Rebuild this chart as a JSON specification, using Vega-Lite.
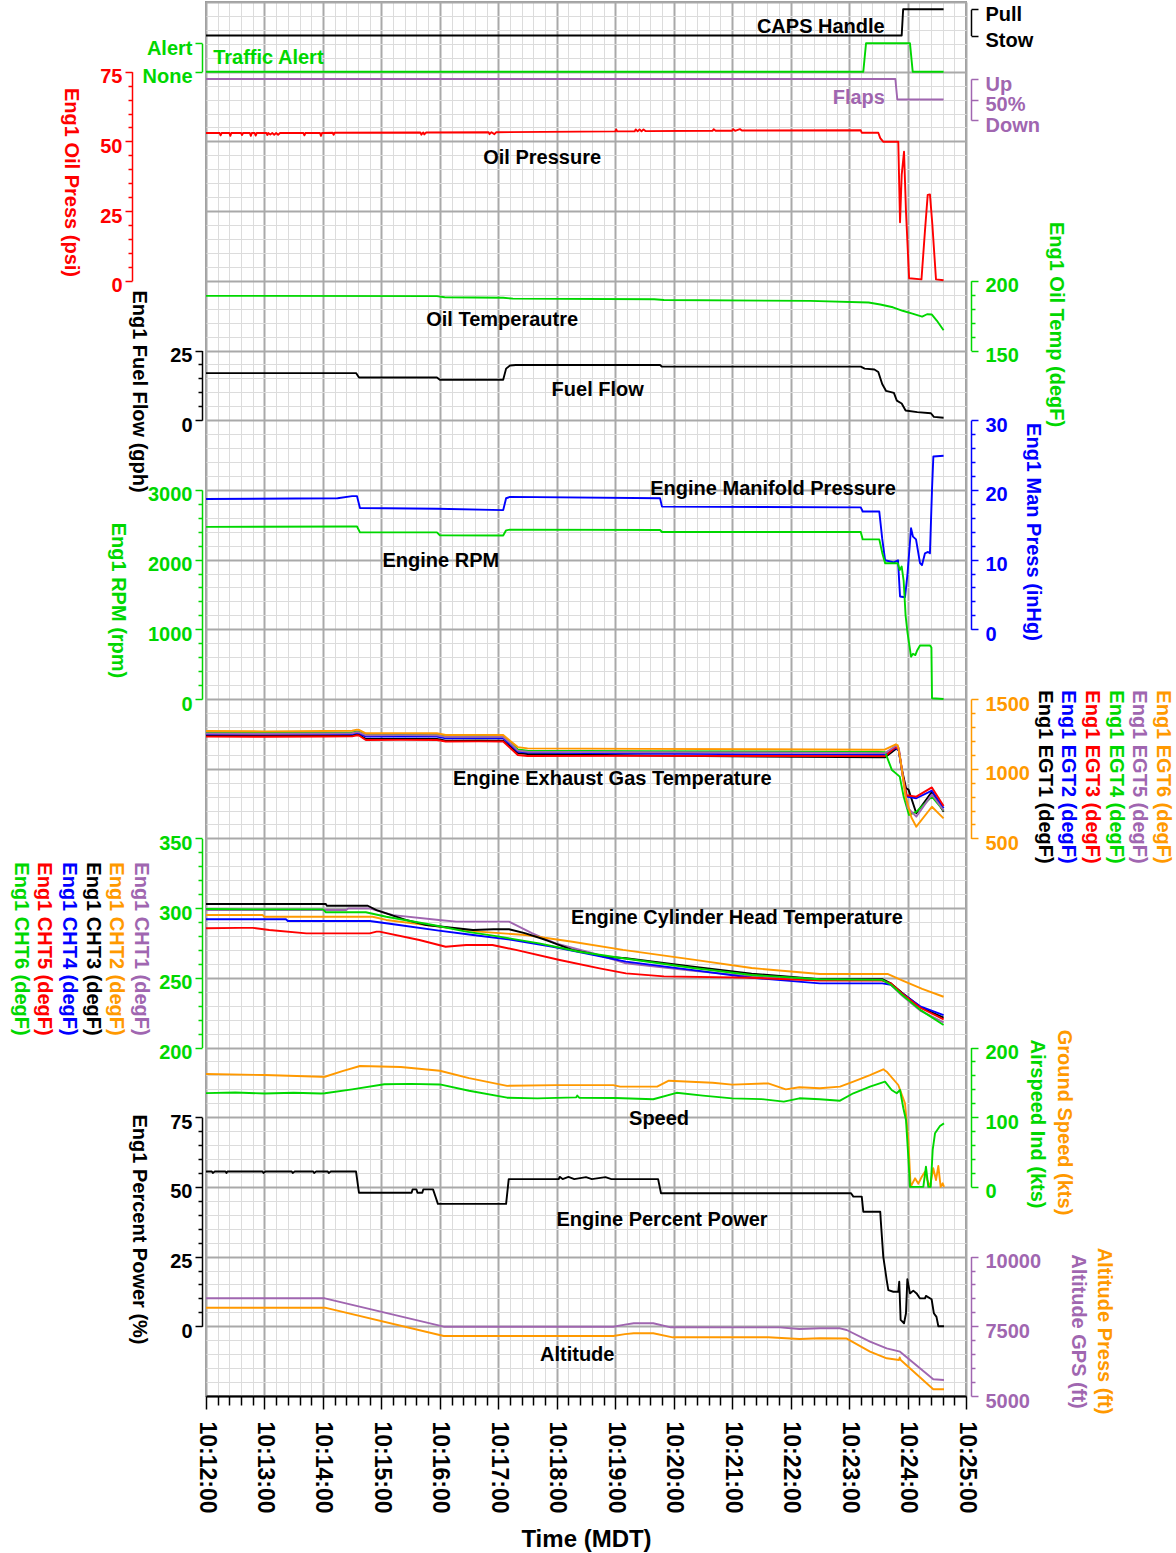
{
"$schema": "https://vega.github.io/schema/vega-lite/v6.json",
"width": 760,
"height": 1394,
"autosize": {"type": "none"},
"padding": {"left": 206, "top": 2, "right": 210, "bottom": 157},
"background": "white",
"config": {
  "font": "Liberation Sans",
  "numberFormat": "d",
  "view": {"stroke": "#9a9a9a", "strokeWidth": 2},
  "axisY": {"grid": false, "format": "d", "domainWidth": 1.5, "tickWidth": 1.5, "labelFontSize": 20, "labelFontWeight": "bold", "labelOffset": 5, "labelPadding": 3, "labelOverlap": false, "labelBound": false, "labelFlush": false, "titleFontSize": 20, "titleFontWeight": "bold", "titleAngle": 90, "titleAlign": "center", "titleBaseline": "middle"},
  "axisRight": {"labelPadding": 7},
  "line": {"strokeWidth": 1.9, "strokeJoin": "round"}
},
"datasets": {
  "caps": [{"t":0,"v":0},{"t":714,"v":0},{"t":715.5,"v":1},{"t":757,"v":1}],
  "traffic": [{"t":0,"v":0},{"t":674.6,"v":0},{"t":677.4,"v":1},{"t":722.5,"v":1},{"t":725.3,"v":0},{"t":757,"v":0}],
  "flaps": [{"t":0,"v":0},{"t":707.5,"v":0},{"t":709.5,"v":50},{"t":757,"v":50}],
  "oilp": [{"t":0,"v":53},{"t":14,"v":53},{"t":15,"v":52.2},{"t":16,"v":53},{"t":24,"v":53},{"t":25,"v":52},{"t":26,"v":53},{"t":36,"v":53},{"t":37,"v":52.3},{"t":38,"v":53},{"t":45,"v":53},{"t":46,"v":52},{"t":47,"v":53},{"t":50,"v":53},{"t":51,"v":52.1},{"t":52,"v":53},{"t":62,"v":53},{"t":63,"v":52.3},{"t":64,"v":53},{"t":66,"v":52.5},{"t":68,"v":53},{"t":70,"v":52.4},{"t":72,"v":53},{"t":74,"v":52.4},{"t":76,"v":53},{"t":100,"v":53},{"t":101,"v":52.2},{"t":102,"v":53},{"t":117,"v":53},{"t":118,"v":52},{"t":119,"v":53},{"t":130,"v":53.1},{"t":131,"v":52.4},{"t":132,"v":53.1},{"t":220,"v":53.2},{"t":221,"v":52.4},{"t":223,"v":53.2},{"t":224,"v":52.5},{"t":226,"v":53.2},{"t":290,"v":53.3},{"t":291,"v":52.6},{"t":293,"v":53.3},{"t":296,"v":52.6},{"t":298,"v":53.3},{"t":420,"v":53.6},{"t":421,"v":54.3},{"t":422,"v":53.6},{"t":440,"v":53.6},{"t":441,"v":54.3},{"t":443,"v":53.6},{"t":445,"v":54.3},{"t":447,"v":53.6},{"t":449,"v":54.3},{"t":451,"v":53.7},{"t":520,"v":53.8},{"t":521,"v":54.4},{"t":523,"v":53.8},{"t":540,"v":53.8},{"t":541,"v":54.4},{"t":543,"v":53.8},{"t":548,"v":54.4},{"t":550,"v":53.9},{"t":672,"v":54},{"t":673,"v":53.1},{"t":690,"v":53.1},{"t":692,"v":51.2},{"t":695,"v":49.9},{"t":710.5,"v":49.9},{"t":712.3,"v":21},{"t":714,"v":38},{"t":716.4,"v":46.3},{"t":718.4,"v":25},{"t":721.6,"v":0.9},{"t":734.3,"v":0.5},{"t":737.9,"v":18},{"t":740.7,"v":30.8},{"t":743,"v":31},{"t":745.5,"v":20},{"t":749.2,"v":0.5},{"t":757,"v":0.2}],
  "oilt": [{"t":0,"v":189.2},{"t":237,"v":189},{"t":245,"v":188.2},{"t":305,"v":187.8},{"t":315,"v":187.2},{"t":460,"v":186.8},{"t":470,"v":186.2},{"t":620,"v":185.6},{"t":680,"v":184.4},{"t":692,"v":183},{"t":705,"v":181},{"t":715,"v":178.5},{"t":725,"v":176.5},{"t":735,"v":174.3},{"t":740,"v":176},{"t":745,"v":175.8},{"t":750,"v":171.5},{"t":757,"v":164.5}],
  "ff": [{"t":0,"v":16.9},{"t":154,"v":16.9},{"t":157,"v":15.3},{"t":237,"v":15.3},{"t":240,"v":14.5},{"t":305,"v":14.5},{"t":308,"v":18.5},{"t":312,"v":19.6},{"t":318,"v":19.8},{"t":466,"v":19.8},{"t":468,"v":19.2},{"t":672,"v":19.2},{"t":676,"v":18.5},{"t":686,"v":18.2},{"t":690,"v":17.3},{"t":694,"v":13},{"t":698,"v":10.5},{"t":706,"v":9.8},{"t":709,"v":7},{"t":714,"v":6},{"t":718,"v":3.5},{"t":730,"v":2.9},{"t":744,"v":2.5},{"t":747,"v":1.2},{"t":757,"v":0.9}],
  "map": [{"t":0,"v":18.7},{"t":135,"v":18.8},{"t":150,"v":19.1},{"t":155,"v":19.1},{"t":158,"v":17.4},{"t":237,"v":17.3},{"t":305,"v":17.1},{"t":308,"v":18.8},{"t":312,"v":19},{"t":466,"v":18.8},{"t":468,"v":17.6},{"t":672,"v":17.5},{"t":674,"v":16.9},{"t":691,"v":16.9},{"t":694,"v":13},{"t":697,"v":9.9},{"t":706,"v":9.6},{"t":710.2,"v":9.9},{"t":712.3,"v":4.7},{"t":717.4,"v":4.6},{"t":720,"v":8},{"t":723.6,"v":14.5},{"t":725.6,"v":13.3},{"t":728.7,"v":12.9},{"t":732.8,"v":9.5},{"t":734.8,"v":9.2},{"t":737.9,"v":10.9},{"t":741,"v":11.1},{"t":743,"v":10.9},{"t":745.1,"v":20},{"t":746.5,"v":24.8},{"t":757,"v":24.9}],
  "rpm": [{"t":0,"v":2470},{"t":150,"v":2475},{"t":155,"v":2475},{"t":158,"v":2390},{"t":237,"v":2390},{"t":240,"v":2350},{"t":305,"v":2345},{"t":308,"v":2420},{"t":312,"v":2430},{"t":466,"v":2425},{"t":468,"v":2396},{"t":672,"v":2396},{"t":674,"v":2290},{"t":691,"v":2290},{"t":694,"v":2100},{"t":697,"v":1947},{"t":710,"v":1947},{"t":712,"v":1850},{"t":714,"v":1900},{"t":716,"v":1700},{"t":718,"v":1200},{"t":720,"v":950},{"t":723.6,"v":607},{"t":725.6,"v":650},{"t":728,"v":630},{"t":730,"v":700},{"t":732.8,"v":768},{"t":743,"v":770},{"t":744.5,"v":740},{"t":745.1,"v":10},{"t":757,"v":0}],
  "egt": [
    {"t":0,"s":"EGT6","v":1270},{"t":60,"s":"EGT6","v":1268},{"t":120,"s":"EGT6","v":1270},{"t":150,"s":"EGT6","v":1272},{"t":155,"s":"EGT6","v":1280},{"t":157,"s":"EGT6","v":1278},{"t":164,"s":"EGT6","v":1254},{"t":200,"s":"EGT6","v":1255},{"t":237,"s":"EGT6","v":1254},{"t":246,"s":"EGT6","v":1242},{"t":280,"s":"EGT6","v":1243},{"t":305,"s":"EGT6","v":1242},{"t":312,"s":"EGT6","v":1200},{"t":320,"s":"EGT6","v":1155},{"t":330,"s":"EGT6","v":1146},{"t":450,"s":"EGT6","v":1142},{"t":570,"s":"EGT6","v":1140},{"t":690,"s":"EGT6","v":1136},{"t":697,"s":"EGT6","v":1138},{"t":708,"s":"EGT6","v":1175},{"t":710,"s":"EGT6","v":1168},{"t":713,"s":"EGT6","v":1050},{"t":718,"s":"EGT6","v":800},{"t":724,"s":"EGT6","v":650},{"t":729,"s":"EGT6","v":584},{"t":745,"s":"EGT6","v":727},{"t":757,"s":"EGT6","v":644},
    {"t":0,"s":"EGT4","v":1258},{"t":60,"s":"EGT4","v":1257},{"t":120,"s":"EGT4","v":1259},{"t":150,"s":"EGT4","v":1260},{"t":155,"s":"EGT4","v":1268},{"t":157,"s":"EGT4","v":1266},{"t":164,"s":"EGT4","v":1245},{"t":200,"s":"EGT4","v":1246},{"t":237,"s":"EGT4","v":1245},{"t":246,"s":"EGT4","v":1232},{"t":280,"s":"EGT4","v":1233},{"t":305,"s":"EGT4","v":1232},{"t":312,"s":"EGT4","v":1190},{"t":320,"s":"EGT4","v":1138},{"t":330,"s":"EGT4","v":1129},{"t":450,"s":"EGT4","v":1126},{"t":570,"s":"EGT4","v":1124},{"t":690,"s":"EGT4","v":1120},{"t":697,"s":"EGT4","v":1118},{"t":704,"s":"EGT4","v":990},{"t":712,"s":"EGT4","v":943},{"t":716,"s":"EGT4","v":800},{"t":721.5,"s":"EGT4","v":668},{"t":729,"s":"EGT4","v":690},{"t":745,"s":"EGT4","v":800},{"t":757,"s":"EGT4","v":700},
    {"t":0,"s":"EGT5","v":1252},{"t":60,"s":"EGT5","v":1251},{"t":120,"s":"EGT5","v":1253},{"t":150,"s":"EGT5","v":1254},{"t":155,"s":"EGT5","v":1262},{"t":157,"s":"EGT5","v":1260},{"t":164,"s":"EGT5","v":1240},{"t":200,"s":"EGT5","v":1241},{"t":237,"s":"EGT5","v":1240},{"t":246,"s":"EGT5","v":1228},{"t":280,"s":"EGT5","v":1229},{"t":305,"s":"EGT5","v":1228},{"t":312,"s":"EGT5","v":1185},{"t":320,"s":"EGT5","v":1130},{"t":330,"s":"EGT5","v":1122},{"t":450,"s":"EGT5","v":1118},{"t":570,"s":"EGT5","v":1116},{"t":690,"s":"EGT5","v":1112},{"t":697,"s":"EGT5","v":1112},{"t":708,"s":"EGT5","v":1165},{"t":711,"s":"EGT5","v":1150},{"t":715,"s":"EGT5","v":950},{"t":720,"s":"EGT5","v":720},{"t":729,"s":"EGT5","v":656},{"t":745,"s":"EGT5","v":815},{"t":757,"s":"EGT5","v":700},
    {"t":0,"s":"EGT2","v":1247},{"t":60,"s":"EGT2","v":1246},{"t":120,"s":"EGT2","v":1248},{"t":150,"s":"EGT2","v":1249},{"t":155,"s":"EGT2","v":1257},{"t":157,"s":"EGT2","v":1255},{"t":164,"s":"EGT2","v":1230},{"t":200,"s":"EGT2","v":1231},{"t":237,"s":"EGT2","v":1230},{"t":246,"s":"EGT2","v":1218},{"t":280,"s":"EGT2","v":1219},{"t":305,"s":"EGT2","v":1218},{"t":312,"s":"EGT2","v":1175},{"t":320,"s":"EGT2","v":1123},{"t":330,"s":"EGT2","v":1115},{"t":450,"s":"EGT2","v":1108},{"t":570,"s":"EGT2","v":1103},{"t":690,"s":"EGT2","v":1098},{"t":697,"s":"EGT2","v":1098},{"t":708,"s":"EGT2","v":1150},{"t":711,"s":"EGT2","v":1130},{"t":715,"s":"EGT2","v":950},{"t":719,"s":"EGT2","v":800},{"t":729,"s":"EGT2","v":788},{"t":745,"s":"EGT2","v":842},{"t":757,"s":"EGT2","v":716},
    {"t":0,"s":"EGT1","v":1237},{"t":60,"s":"EGT1","v":1236},{"t":120,"s":"EGT1","v":1238},{"t":150,"s":"EGT1","v":1239},{"t":155,"s":"EGT1","v":1247},{"t":157,"s":"EGT1","v":1245},{"t":164,"s":"EGT1","v":1213},{"t":200,"s":"EGT1","v":1214},{"t":237,"s":"EGT1","v":1213},{"t":246,"s":"EGT1","v":1201},{"t":280,"s":"EGT1","v":1202},{"t":305,"s":"EGT1","v":1201},{"t":312,"s":"EGT1","v":1160},{"t":320,"s":"EGT1","v":1112},{"t":330,"s":"EGT1","v":1105},{"t":450,"s":"EGT1","v":1095},{"t":570,"s":"EGT1","v":1088},{"t":690,"s":"EGT1","v":1082},{"t":697,"s":"EGT1","v":1082},{"t":709,"s":"EGT1","v":1146},{"t":711,"s":"EGT1","v":1130},{"t":714,"s":"EGT1","v":1000},{"t":718.5,"s":"EGT1","v":860},{"t":721,"s":"EGT1","v":850},{"t":729,"s":"EGT1","v":680},{"t":745,"s":"EGT1","v":835},{"t":757,"s":"EGT1","v":691},
    {"t":0,"s":"EGT3","v":1230},{"t":60,"s":"EGT3","v":1229},{"t":120,"s":"EGT3","v":1231},{"t":150,"s":"EGT3","v":1232},{"t":155,"s":"EGT3","v":1240},{"t":157,"s":"EGT3","v":1238},{"t":164,"s":"EGT3","v":1206},{"t":200,"s":"EGT3","v":1207},{"t":237,"s":"EGT3","v":1206},{"t":246,"s":"EGT3","v":1195},{"t":280,"s":"EGT3","v":1196},{"t":305,"s":"EGT3","v":1195},{"t":312,"s":"EGT3","v":1150},{"t":320,"s":"EGT3","v":1098},{"t":330,"s":"EGT3","v":1091},{"t":450,"s":"EGT3","v":1092},{"t":570,"s":"EGT3","v":1091},{"t":690,"s":"EGT3","v":1090},{"t":697,"s":"EGT3","v":1090},{"t":708,"s":"EGT3","v":1158},{"t":711,"s":"EGT3","v":1140},{"t":715,"s":"EGT3","v":960},{"t":719,"s":"EGT3","v":810},{"t":729,"s":"EGT3","v":800},{"t":745,"s":"EGT3","v":866},{"t":757,"s":"EGT3","v":732}
  ],
  "cht": [
    {"t":0,"s":"CHT3","v":302.9},{"t":123,"s":"CHT3","v":302.9},{"t":124,"s":"CHT3","v":301.7},{"t":166,"s":"CHT3","v":301.7},{"t":175,"s":"CHT3","v":298.6},{"t":205,"s":"CHT3","v":291.5},{"t":226,"s":"CHT3","v":287.9},{"t":274,"s":"CHT3","v":284.3},{"t":295,"s":"CHT3","v":284.8},{"t":311,"s":"CHT3","v":284.8},{"t":328,"s":"CHT3","v":281.9},{"t":349,"s":"CHT3","v":277.1},{"t":376,"s":"CHT3","v":270},{"t":410,"s":"CHT3","v":265.1},{"t":431,"s":"CHT3","v":264},{"t":500,"s":"CHT3","v":258},{"t":560,"s":"CHT3","v":253},{"t":630,"s":"CHT3","v":249},{"t":694,"s":"CHT3","v":249},{"t":703,"s":"CHT3","v":246},{"t":714,"s":"CHT3","v":239.5},{"t":733,"s":"CHT3","v":229},{"t":757,"s":"CHT3","v":221.5},
    {"t":0,"s":"CHT6","v":299.4},{"t":48,"s":"CHT6","v":299.1},{"t":120,"s":"CHT6","v":299.1},{"t":123,"s":"CHT6","v":297},{"t":164,"s":"CHT6","v":297},{"t":185,"s":"CHT6","v":293.8},{"t":233,"s":"CHT6","v":287.9},{"t":267,"s":"CHT6","v":283.1},{"t":301,"s":"CHT6","v":279.5},{"t":342,"s":"CHT6","v":274.7},{"t":383,"s":"CHT6","v":268.7},{"t":428,"s":"CHT6","v":264},{"t":500,"s":"CHT6","v":257},{"t":560,"s":"CHT6","v":252},{"t":630,"s":"CHT6","v":249},{"t":694,"s":"CHT6","v":248.5},{"t":703,"s":"CHT6","v":245},{"t":714,"s":"CHT6","v":238},{"t":733,"s":"CHT6","v":227},{"t":757,"s":"CHT6","v":216.1},
    {"t":0,"s":"CHT1","v":298.6},{"t":144,"s":"CHT1","v":298.6},{"t":146,"s":"CHT1","v":299.8},{"t":168,"s":"CHT1","v":299.8},{"t":192,"s":"CHT1","v":295},{"t":239,"s":"CHT1","v":291.5},{"t":257,"s":"CHT1","v":290.3},{"t":311,"s":"CHT1","v":290.3},{"t":335,"s":"CHT1","v":281.9},{"t":359,"s":"CHT1","v":274.7},{"t":397,"s":"CHT1","v":267.6},{"t":431,"s":"CHT1","v":260.4},{"t":500,"s":"CHT1","v":255},{"t":560,"s":"CHT1","v":251},{"t":630,"s":"CHT1","v":248.5},{"t":694,"s":"CHT1","v":248.5},{"t":703,"s":"CHT1","v":245},{"t":714,"s":"CHT1","v":237.5},{"t":733,"s":"CHT1","v":226.5},{"t":757,"s":"CHT1","v":218},
    {"t":0,"s":"CHT2","v":295},{"t":58,"s":"CHT2","v":295},{"t":60,"s":"CHT2","v":293.8},{"t":171,"s":"CHT2","v":293.8},{"t":185,"s":"CHT2","v":291.5},{"t":239,"s":"CHT2","v":286.7},{"t":280,"s":"CHT2","v":283.1},{"t":328,"s":"CHT2","v":280.7},{"t":376,"s":"CHT2","v":275.9},{"t":428,"s":"CHT2","v":270},{"t":500,"s":"CHT2","v":263},{"t":560,"s":"CHT2","v":257},{"t":630,"s":"CHT2","v":252.7},{"t":700,"s":"CHT2","v":252.7},{"t":715,"s":"CHT2","v":248},{"t":735,"s":"CHT2","v":242},{"t":757,"s":"CHT2","v":236.4},
    {"t":0,"s":"CHT4","v":292},{"t":82,"s":"CHT4","v":292},{"t":84,"s":"CHT4","v":290.7},{"t":168,"s":"CHT4","v":290.7},{"t":198,"s":"CHT4","v":287.9},{"t":239,"s":"CHT4","v":283.8},{"t":274,"s":"CHT4","v":280.7},{"t":315,"s":"CHT4","v":277.1},{"t":356,"s":"CHT4","v":272.3},{"t":397,"s":"CHT4","v":266.4},{"t":431,"s":"CHT4","v":261.6},{"t":500,"s":"CHT4","v":255.5},{"t":560,"s":"CHT4","v":250},{"t":630,"s":"CHT4","v":246},{"t":694,"s":"CHT4","v":246},{"t":703,"s":"CHT4","v":245},{"t":714,"s":"CHT4","v":239},{"t":733,"s":"CHT4","v":229.5},{"t":757,"s":"CHT4","v":223.3},
    {"t":0,"s":"CHT5","v":285.5},{"t":34,"s":"CHT5","v":285.8},{"t":48,"s":"CHT5","v":285.8},{"t":65,"s":"CHT5","v":284.3},{"t":103,"s":"CHT5","v":281.9},{"t":168,"s":"CHT5","v":281.9},{"t":175,"s":"CHT5","v":283.1},{"t":178,"s":"CHT5","v":283.1},{"t":219,"s":"CHT5","v":277.1},{"t":246,"s":"CHT5","v":272.3},{"t":267,"s":"CHT5","v":273.5},{"t":294,"s":"CHT5","v":273.5},{"t":318,"s":"CHT5","v":270},{"t":363,"s":"CHT5","v":262.8},{"t":404,"s":"CHT5","v":256.8},{"t":431,"s":"CHT5","v":253.2},{"t":470,"s":"CHT5","v":251},{"t":560,"s":"CHT5","v":250},{"t":630,"s":"CHT5","v":248},{"t":694,"s":"CHT5","v":248},{"t":703,"s":"CHT5","v":246},{"t":714,"s":"CHT5","v":239},{"t":733,"s":"CHT5","v":228.5},{"t":757,"s":"CHT5","v":220.2}
  ],
  "speed": [
    {"t":0,"s":"GS","v":162},{"t":60,"s":"GS","v":160.5},{"t":118,"s":"GS","v":158},{"t":122,"s":"GS","v":158},{"t":140,"s":"GS","v":166},{"t":158,"s":"GS","v":173.5},{"t":200,"s":"GS","v":172},{"t":240,"s":"GS","v":166.7},{"t":270,"s":"GS","v":156},{"t":309,"s":"GS","v":145},{"t":360,"s":"GS","v":146},{"t":418,"s":"GS","v":146},{"t":425,"s":"GS","v":143.8},{"t":463,"s":"GS","v":143.8},{"t":475,"s":"GS","v":152.4},{"t":520,"s":"GS","v":149.5},{"t":540,"s":"GS","v":146.7},{"t":577,"s":"GS","v":148.6},{"t":595,"s":"GS","v":140},{"t":609,"s":"GS","v":142.9},{"t":630,"s":"GS","v":141.5},{"t":650.7,"s":"GS","v":143.8},{"t":664.4,"s":"GS","v":151},{"t":681.5,"s":"GS","v":160.5},{"t":695.1,"s":"GS","v":168.7},{"t":698.6,"s":"GS","v":165.3},{"t":710.5,"s":"GS","v":146.2},{"t":717.4,"s":"GS","v":119.9},{"t":720.8,"s":"GS","v":67.3},{"t":723.2,"s":"GS","v":0.3},{"t":727.7,"s":"GS","v":12.3},{"t":731.1,"s":"GS","v":4.6},{"t":734.6,"s":"GS","v":14.6},{"t":737.9,"s":"GS","v":21.8},{"t":740.3,"s":"GS","v":9.9},{"t":743,"s":"GS","v":0},{"t":746.4,"s":"GS","v":26.7},{"t":749.2,"s":"GS","v":9.9},{"t":751.6,"s":"GS","v":30},{"t":754,"s":"GS","v":0},{"t":756.1,"s":"GS","v":5.2},{"t":757.4,"s":"GS","v":0},
    {"t":0,"s":"IAS","v":134.5},{"t":30,"s":"IAS","v":135.5},{"t":60,"s":"IAS","v":134},{"t":90,"s":"IAS","v":135},{"t":118,"s":"IAS","v":134},{"t":122,"s":"IAS","v":134.3},{"t":150,"s":"IAS","v":140},{"t":183,"s":"IAS","v":147.2},{"t":210,"s":"IAS","v":147.8},{"t":240,"s":"IAS","v":147},{"t":270,"s":"IAS","v":138},{"t":309,"s":"IAS","v":128},{"t":340,"s":"IAS","v":127},{"t":380,"s":"IAS","v":128.5},{"t":381,"s":"IAS","v":131},{"t":383,"s":"IAS","v":128},{"t":420,"s":"IAS","v":127.5},{"t":459,"s":"IAS","v":125.7},{"t":483,"s":"IAS","v":135},{"t":510,"s":"IAS","v":131},{"t":540,"s":"IAS","v":127},{"t":570,"s":"IAS","v":126},{"t":593,"s":"IAS","v":122.3},{"t":609,"s":"IAS","v":127.1},{"t":630,"s":"IAS","v":125.7},{"t":650.7,"s":"IAS","v":123.7},{"t":664.4,"s":"IAS","v":134.3},{"t":681.5,"s":"IAS","v":143.8},{"t":696.9,"s":"IAS","v":151},{"t":703.7,"s":"IAS","v":139},{"t":708.9,"s":"IAS","v":134.3},{"t":712.3,"s":"IAS","v":139},{"t":715.7,"s":"IAS","v":112.8},{"t":718.4,"s":"IAS","v":96},{"t":720.8,"s":"IAS","v":43.3},{"t":722.5,"s":"IAS","v":0},{"t":736.2,"s":"IAS","v":0},{"t":738.9,"s":"IAS","v":29},{"t":741.3,"s":"IAS","v":0},{"t":743.8,"s":"IAS","v":0},{"t":745.8,"s":"IAS","v":53},{"t":748.2,"s":"IAS","v":76.9},{"t":753.3,"s":"IAS","v":87.4},{"t":757.4,"s":"IAS","v":91.2}
  ],
  "pwr": [{"t":0,"v":55.5},{"t":6,"v":55.5},{"t":7,"v":55},{"t":9,"v":55.5},{"t":20,"v":55.5},{"t":21,"v":55},{"t":22,"v":55.5},{"t":58,"v":55.5},{"t":59,"v":55},{"t":61,"v":55.5},{"t":88,"v":55.5},{"t":89,"v":55},{"t":91,"v":55.5},{"t":110,"v":55.5},{"t":111,"v":55},{"t":113,"v":55.5},{"t":125,"v":55.5},{"t":126,"v":55},{"t":128,"v":55.5},{"t":154,"v":55.5},{"t":157,"v":47.9},{"t":211,"v":47.9},{"t":212,"v":49.1},{"t":216,"v":49.1},{"t":217,"v":47.9},{"t":222,"v":47.9},{"t":223,"v":49.1},{"t":233,"v":49.1},{"t":236,"v":46},{"t":238,"v":43.9},{"t":308,"v":43.9},{"t":310.7,"v":52.8},{"t":362,"v":52.8},{"t":363,"v":53.6},{"t":366,"v":52.8},{"t":372,"v":53.6},{"t":378,"v":52.8},{"t":390,"v":53.5},{"t":396,"v":52.8},{"t":410,"v":53.5},{"t":416,"v":52.8},{"t":464,"v":52.8},{"t":467,"v":47.7},{"t":662,"v":47.7},{"t":664.4,"v":46.5},{"t":673,"v":46.5},{"t":674.6,"v":41.1},{"t":692,"v":41.1},{"t":692.5,"v":38.1},{"t":695.1,"v":25},{"t":698.6,"v":16.6},{"t":700.3,"v":13},{"t":705.4,"v":12.4},{"t":710.5,"v":12.4},{"t":711.5,"v":16},{"t":712.9,"v":2.3},{"t":716.4,"v":1.1},{"t":718.4,"v":4.7},{"t":719.8,"v":16.9},{"t":722.5,"v":11.8},{"t":725.9,"v":12.8},{"t":729.3,"v":11.8},{"t":732.8,"v":10},{"t":737.9,"v":10},{"t":738.9,"v":10.9},{"t":744.7,"v":9.7},{"t":747,"v":4.7},{"t":749.7,"v":3.4},{"t":751.6,"v":0},{"t":757.4,"v":0}],
  "alt": [
    {"t":0,"s":"GPS","v":8504},{"t":122,"s":"GPS","v":8504},{"t":244,"s":"GPS","v":7486},{"t":418,"s":"GPS","v":7486},{"t":430,"s":"GPS","v":7560},{"t":439,"s":"GPS","v":7608},{"t":459,"s":"GPS","v":7608},{"t":477,"s":"GPS","v":7464},{"t":540,"s":"GPS","v":7460},{"t":589,"s":"GPS","v":7460},{"t":609,"s":"GPS","v":7403},{"t":630,"s":"GPS","v":7428},{"t":650.7,"s":"GPS","v":7428},{"t":657.6,"s":"GPS","v":7367},{"t":681.5,"s":"GPS","v":6948},{"t":698.6,"s":"GPS","v":6711},{"t":712.3,"s":"GPS","v":6590},{"t":746.4,"s":"GPS","v":5599},{"t":757.4,"s":"GPS","v":5574},
    {"t":0,"s":"Press","v":8168},{"t":122,"s":"Press","v":8168},{"t":244,"s":"Press","v":7152},{"t":418,"s":"Press","v":7152},{"t":430,"s":"Press","v":7220},{"t":439,"s":"Press","v":7249},{"t":459,"s":"Press","v":7249},{"t":479,"s":"Press","v":7105},{"t":577,"s":"Press","v":7105},{"t":609,"s":"Press","v":7045},{"t":630,"s":"Press","v":7070},{"t":657.6,"s":"Press","v":7060},{"t":681.5,"s":"Press","v":6589},{"t":698.6,"s":"Press","v":6352},{"t":711.2,"s":"Press","v":6291},{"t":712,"s":"Press","v":6380},{"t":713,"s":"Press","v":6291},{"t":746.4,"s":"Press","v":5240},{"t":757.4,"s":"Press","v":5240}
  ],
  "labels": [
    {"t":631,"row":0.36,"label":"CAPS Handle","kind":"main"},
    {"t":64,"row":0.8,"label":"Traffic Alert","kind":"traffic"},
    {"t":670,"row":1.38,"label":"Flaps","kind":"flaps"},
    {"t":345,"row":2.24,"label":"Oil Pressure","kind":"main"},
    {"t":304,"row":4.56,"label":"Oil Temperautre","kind":"main"},
    {"t":402,"row":5.57,"label":"Fuel Flow","kind":"main"},
    {"t":582,"row":6.99,"label":"Engine Manifold Pressure","kind":"main"},
    {"t":241,"row":8.02,"label":"Engine RPM","kind":"main"},
    {"t":417,"row":11.15,"label":"Engine Exhaust Gas Temperature","kind":"main"},
    {"t":545,"row":13.14,"label":"Engine Cylinder Head Temperature","kind":"main"},
    {"t":465,"row":16.03,"label":"Speed","kind":"main"},
    {"t":468,"row":17.48,"label":"Engine Percent Power","kind":"main"},
    {"t":381,"row":19.41,"label":"Altitude","kind":"main"}
  ]
},
"encoding": {
  "x": {"field": "t", "type": "quantitative", "scale": {"domain": [0, 780], "nice": false, "zero": false},
    "axis": {"title": "Time (MDT)",
      "values": [0,12,24,36,48,60,72,84,96,108,120,132,144,156,168,180,192,204,216,228,240,252,264,276,288,300,312,324,336,348,360,372,384,396,408,420,432,444,456,468,480,492,504,516,528,540,552,564,576,588,600,612,624,636,648,660,672,684,696,708,720,732,744,756,768,780],
      "labelExpr": "datum.value % 60 === 0 ? '10:' + (12 + datum.value / 60) + ':00' : ''",
      "tickSize": {"condition": {"test": "datum.value % 60 === 0", "value": 13}, "value": 9},
      "tickColor": "black", "tickWidth": 1.5, "domainColor": "black", "domainWidth": 2,
      "grid": true,
      "gridColor": {"condition": {"test": "datum.value % 60 === 0", "value": "#a9a9a9"}, "value": "#dcdcdc"},
      "gridWidth": {"condition": {"test": "datum.value % 60 === 0", "value": 2}, "value": 1},
      "labelAngle": 90, "labelAlign": "left", "labelBaseline": "middle", "labelFontSize": 23, "labelFontWeight": "bold", "labelColor": "black", "labelPadding": 12, "labelOverlap": false, "labelFlush": false, "labelBound": false,
      "titleFontSize": 24, "titleFontWeight": "bold", "titleColor": "black", "titleY": 143, "titleBaseline": "middle"}}
},
"layer": [
  {"data": {"values": [{"t": 0, "g": 0}]}, "mark": {"type": "point", "opacity": 0},
   "encoding": {"y": {"field": "g", "type": "quantitative", "scale": {"domain": [0, 100], "range": [0, 1394], "nice": false, "zero": false},
     "axis": {"orient": "left", "values": [0,1,2,3,4,5,6,7,8,9,10,11,12,13,14,15,16,17,18,19,20,21,22,23,24,25,26,27,28,29,30,31,32,33,34,35,36,37,38,39,40,41,42,43,44,45,46,47,48,49,50,51,52,53,54,55,56,57,58,59,60,61,62,63,64,65,66,67,68,69,70,71,72,73,74,75,76,77,78,79,80,81,82,83,84,85,86,87,88,89,90,91,92,93,94,95,96,97,98,99,100],
       "grid": true, "gridColor": {"condition": {"test": "datum.value % 5 === 0", "value": "#a9a9a9"}, "value": "#dcdcdc"},
       "gridWidth": {"condition": {"test": "datum.value % 5 === 0", "value": 2}, "value": 1},
       "labels": false, "ticks": false, "domain": false, "title": null}}}},
  {"data": {"name": "caps"}, "mark": {"type": "line", "color": "black"},
   "encoding": {"y": {"field": "v", "type": "quantitative", "scale": {"domain": [0, 1], "range": [33.5, 7.3], "nice": false},
     "axis": {"orient": "right", "offset": 5, "values": [0, 1], "labelExpr": "datum.value === 1 ? 'Pull' : 'Stow'", "tickSize": 7, "domainColor": "black", "tickColor": "black", "labelColor": "black", "title": null}}}},
  {"data": {"name": "traffic"}, "mark": {"type": "line", "color": "#00d700"},
   "encoding": {"y": {"field": "v", "type": "quantitative", "scale": {"domain": [0, 1], "range": [69.7, 41.3], "nice": false},
     "axis": {"orient": "left", "offset": 4, "values": [0, 1], "labelExpr": "datum.value === 1 ? 'Alert' : 'None'", "tickSize": 7, "domainColor": "#00d700", "tickColor": "#00d700", "labelColor": "#00d700", "title": null}}}},
  {"data": {"name": "flaps"}, "mark": {"type": "line", "color": "#a066b0"},
   "encoding": {"y": {"field": "v", "type": "quantitative", "scale": {"domain": [0, 100], "range": [77, 118], "nice": false},
     "axis": {"orient": "right", "offset": 5, "values": [0, 50, 100], "labelExpr": "datum.value === 0 ? 'Up' : datum.value === 50 ? '50%' : 'Down'", "tickSize": 7, "domainColor": "#a066b0", "tickColor": "#a066b0", "labelColor": "#a066b0", "title": null}}}},
  {"data": {"name": "oilp"}, "mark": {"type": "line", "color": "#ff0000"},
   "encoding": {"y": {"field": "v", "type": "quantitative", "scale": {"domain": [0, 75], "range": [278.8, 69.7], "nice": false},
     "axis": {"orient": "left", "offset": 74, "values": [0,5,10,15,20,25,30,35,40,45,50,55,60,65,70,75], "labelExpr": "datum.value % 25 === 0 ? datum.label : ''", "tickSize": {"condition": {"test": "datum.value % 25 === 0", "value": 7}, "value": 4}, "domainColor": "#ff0000", "tickColor": "#ff0000", "labelColor": "#ff0000", "title": "Eng1 Oil Press (psi)", "titleColor": "#ff0000", "titleX": -62, "titleY": 180}}}},
  {"data": {"name": "oilt"}, "mark": {"type": "line", "color": "#00d700"},
   "encoding": {"y": {"field": "v", "type": "quantitative", "scale": {"domain": [150, 200], "range": [348.5, 278.8], "nice": false, "zero": false},
     "axis": {"orient": "right", "offset": 5, "values": [150,160,170,180,190,200], "labelExpr": "datum.value % 50 === 0 ? datum.label : ''", "tickSize": {"condition": {"test": "datum.value % 50 === 0", "value": 7}, "value": 4}, "domainColor": "#00d700", "tickColor": "#00d700", "labelColor": "#00d700", "title": "Eng1 Oil Temp (degF)", "titleColor": "#00d700", "titleX": 84, "titleY": 322}}}},
  {"data": {"name": "ff"}, "mark": {"type": "line", "color": "black"},
   "encoding": {"y": {"field": "v", "type": "quantitative", "scale": {"domain": [0, 25], "range": [418.2, 348.5], "nice": false},
     "axis": {"orient": "left", "offset": 4, "values": [0,5,10,15,20,25], "labelExpr": "datum.value % 25 === 0 ? datum.label : ''", "tickSize": {"condition": {"test": "datum.value % 25 === 0", "value": 7}, "value": 4}, "domainColor": "black", "tickColor": "black", "labelColor": "black", "title": "Eng1 Fuel Flow (gph)", "titleColor": "black", "titleX": -64, "titleY": 389}}}},
  {"data": {"name": "map"}, "mark": {"type": "line", "color": "#0000ff"},
   "encoding": {"y": {"field": "v", "type": "quantitative", "scale": {"domain": [0, 30], "range": [627.3, 418.2], "nice": false},
     "axis": {"orient": "right", "offset": 5, "values": [0,2,4,6,8,10,12,14,16,18,20,22,24,26,28,30], "labelExpr": "datum.value % 10 === 0 ? datum.label : ''", "tickSize": {"condition": {"test": "datum.value % 10 === 0", "value": 7}, "value": 4}, "domainColor": "#0000ff", "tickColor": "#0000ff", "labelColor": "#0000ff", "title": "Eng1 Man Press (inHg)", "titleColor": "#0000ff", "titleX": 61, "titleY": 529.5}}}},
  {"data": {"name": "rpm"}, "mark": {"type": "line", "color": "#00d700"},
   "encoding": {"y": {"field": "v", "type": "quantitative", "scale": {"domain": [0, 3000], "range": [697, 487.9], "nice": false},
     "axis": {"orient": "left", "offset": 4, "format": "d", "values": [0,200,400,600,800,1000,1200,1400,1600,1800,2000,2200,2400,2600,2800,3000], "labelExpr": "datum.value % 1000 === 0 ? datum.label : ''", "tickSize": {"condition": {"test": "datum.value % 1000 === 0", "value": 7}, "value": 4}, "domainColor": "#00d700", "tickColor": "#00d700", "labelColor": "#00d700", "title": "Eng1 RPM (rpm)", "titleColor": "#00d700", "titleX": -85, "titleY": 598}}}},
  {"data": {"name": "egt"}, "transform": [{"filter": "datum.s === 'EGT1'"}], "mark": {"type": "line", "color": "black"},
   "encoding": {"y": {"field": "v", "type": "quantitative", "scale": {"domain": [500, 1500], "range": [836.4, 697], "nice": false, "zero": false},
     "axis": {"orient": "right", "offset": 5, "labels": false, "ticks": false, "domain": false, "title": "Eng1 EGT1 (degF)", "titleColor": "black", "titleX": 73, "titleY": 774.5}}}},
  {"data": {"name": "egt"}, "transform": [{"filter": "datum.s === 'EGT2'"}], "mark": {"type": "line", "color": "#0000ff"},
   "encoding": {"y": {"field": "v", "type": "quantitative", "scale": {"domain": [500, 1500], "range": [836.4, 697], "nice": false, "zero": false},
     "axis": {"orient": "right", "offset": 5, "labels": false, "ticks": false, "domain": false, "title": "Eng1 EGT2 (degF)", "titleColor": "#0000ff", "titleX": 96.7, "titleY": 774.5}}}},
  {"data": {"name": "egt"}, "transform": [{"filter": "datum.s === 'EGT3'"}], "mark": {"type": "line", "color": "#ff0000"},
   "encoding": {"y": {"field": "v", "type": "quantitative", "scale": {"domain": [500, 1500], "range": [836.4, 697], "nice": false, "zero": false},
     "axis": {"orient": "right", "offset": 5, "labels": false, "ticks": false, "domain": false, "title": "Eng1 EGT3 (degF)", "titleColor": "#ff0000", "titleX": 120.4, "titleY": 774.5}}}},
  {"data": {"name": "egt"}, "transform": [{"filter": "datum.s === 'EGT4'"}], "mark": {"type": "line", "color": "#00d700"},
   "encoding": {"y": {"field": "v", "type": "quantitative", "scale": {"domain": [500, 1500], "range": [836.4, 697], "nice": false, "zero": false},
     "axis": {"orient": "right", "offset": 5, "labels": false, "ticks": false, "domain": false, "title": "Eng1 EGT4 (degF)", "titleColor": "#00d700", "titleX": 144.1, "titleY": 774.5}}}},
  {"data": {"name": "egt"}, "transform": [{"filter": "datum.s === 'EGT5'"}], "mark": {"type": "line", "color": "#a066b0"},
   "encoding": {"y": {"field": "v", "type": "quantitative", "scale": {"domain": [500, 1500], "range": [836.4, 697], "nice": false, "zero": false},
     "axis": {"orient": "right", "offset": 5, "labels": false, "ticks": false, "domain": false, "title": "Eng1 EGT5 (degF)", "titleColor": "#a066b0", "titleX": 167.8, "titleY": 774.5}}}},
  {"data": {"name": "egt"}, "transform": [{"filter": "datum.s === 'EGT6'"}], "mark": {"type": "line", "color": "#ff9900"},
   "encoding": {"y": {"field": "v", "type": "quantitative", "scale": {"domain": [500, 1500], "range": [836.4, 697], "nice": false, "zero": false},
     "axis": {"orient": "right", "offset": 5, "format": "d", "values": [500,600,700,800,900,1000,1100,1200,1300,1400,1500], "labelExpr": "datum.value % 500 === 0 ? datum.label : ''", "tickSize": {"condition": {"test": "datum.value % 500 === 0", "value": 7}, "value": 4}, "domainColor": "#ff9900", "tickColor": "#ff9900", "labelColor": "#ff9900", "title": "Eng1 EGT6 (degF)", "titleColor": "#ff9900", "titleX": 191.5, "titleY": 774.5}}}},
  {"data": {"name": "cht"}, "transform": [{"filter": "datum.s === 'CHT1'"}], "mark": {"type": "line", "color": "#a066b0"},
   "encoding": {"y": {"field": "v", "type": "quantitative", "scale": {"domain": [200, 350], "range": [1045.5, 836.4], "nice": false, "zero": false},
     "axis": {"orient": "left", "offset": 4, "labels": false, "ticks": false, "domain": false, "title": "Eng1 CHT1 (degF)", "titleColor": "#a066b0", "titleX": -62, "titleY": 946.5}}}},
  {"data": {"name": "cht"}, "transform": [{"filter": "datum.s === 'CHT2'"}], "mark": {"type": "line", "color": "#ff9900"},
   "encoding": {"y": {"field": "v", "type": "quantitative", "scale": {"domain": [200, 350], "range": [1045.5, 836.4], "nice": false, "zero": false},
     "axis": {"orient": "left", "offset": 4, "labels": false, "ticks": false, "domain": false, "title": "Eng1 CHT2 (degF)", "titleColor": "#ff9900", "titleX": -86.5, "titleY": 946.5}}}},
  {"data": {"name": "cht"}, "transform": [{"filter": "datum.s === 'CHT3'"}], "mark": {"type": "line", "color": "black"},
   "encoding": {"y": {"field": "v", "type": "quantitative", "scale": {"domain": [200, 350], "range": [1045.5, 836.4], "nice": false, "zero": false},
     "axis": {"orient": "left", "offset": 4, "labels": false, "ticks": false, "domain": false, "title": "Eng1 CHT3 (degF)", "titleColor": "black", "titleX": -110, "titleY": 946.5}}}},
  {"data": {"name": "cht"}, "transform": [{"filter": "datum.s === 'CHT4'"}], "mark": {"type": "line", "color": "#0000ff"},
   "encoding": {"y": {"field": "v", "type": "quantitative", "scale": {"domain": [200, 350], "range": [1045.5, 836.4], "nice": false, "zero": false},
     "axis": {"orient": "left", "offset": 4, "labels": false, "ticks": false, "domain": false, "title": "Eng1 CHT4 (degF)", "titleColor": "#0000ff", "titleX": -134, "titleY": 946.5}}}},
  {"data": {"name": "cht"}, "transform": [{"filter": "datum.s === 'CHT5'"}], "mark": {"type": "line", "color": "#ff0000"},
   "encoding": {"y": {"field": "v", "type": "quantitative", "scale": {"domain": [200, 350], "range": [1045.5, 836.4], "nice": false, "zero": false},
     "axis": {"orient": "left", "offset": 4, "labels": false, "ticks": false, "domain": false, "title": "Eng1 CHT5 (degF)", "titleColor": "#ff0000", "titleX": -158.5, "titleY": 946.5}}}},
  {"data": {"name": "cht"}, "transform": [{"filter": "datum.s === 'CHT6'"}], "mark": {"type": "line", "color": "#00d700"},
   "encoding": {"y": {"field": "v", "type": "quantitative", "scale": {"domain": [200, 350], "range": [1045.5, 836.4], "nice": false, "zero": false},
     "axis": {"orient": "left", "offset": 4, "values": [200,210,220,230,240,250,260,270,280,290,300,310,320,330,340,350], "labelExpr": "datum.value % 50 === 0 ? datum.label : ''", "tickSize": {"condition": {"test": "datum.value % 50 === 0", "value": 7}, "value": 4}, "domainColor": "#00d700", "tickColor": "#00d700", "labelColor": "#00d700", "title": "Eng1 CHT6 (degF)", "titleColor": "#00d700", "titleX": -182, "titleY": 946.5}}}},
  {"data": {"name": "speed"}, "transform": [{"filter": "datum.s === 'GS'"}], "mark": {"type": "line", "color": "#ff9900"},
   "encoding": {"y": {"field": "v", "type": "quantitative", "scale": {"domain": [0, 200], "range": [1184.9, 1045.5], "nice": false},
     "axis": {"orient": "right", "offset": 5, "labels": false, "ticks": false, "domain": false, "title": "Ground Speed (kts)", "titleColor": "#ff9900", "titleX": 92, "titleY": 1120}}}},
  {"data": {"name": "speed"}, "transform": [{"filter": "datum.s === 'IAS'"}], "mark": {"type": "line", "color": "#00d700"},
   "encoding": {"y": {"field": "v", "type": "quantitative", "scale": {"domain": [0, 200], "range": [1184.9, 1045.5], "nice": false},
     "axis": {"orient": "right", "offset": 5, "values": [0,20,40,60,80,100,120,140,160,180,200], "labelExpr": "datum.value % 100 === 0 ? datum.label : ''", "tickSize": {"condition": {"test": "datum.value % 100 === 0", "value": 7}, "value": 4}, "domainColor": "#00d700", "tickColor": "#00d700", "labelColor": "#00d700", "title": "Airspeed Ind (kts)", "titleColor": "#00d700", "titleX": 65, "titleY": 1121.5}}}},
  {"data": {"name": "pwr"}, "mark": {"type": "line", "color": "black"},
   "encoding": {"y": {"field": "v", "type": "quantitative", "scale": {"domain": [0, 75], "range": [1324.3, 1115.2], "nice": false},
     "axis": {"orient": "left", "offset": 4, "values": [0,5,10,15,20,25,30,35,40,45,50,55,60,65,70,75], "labelExpr": "datum.value % 25 === 0 ? datum.label : ''", "tickSize": {"condition": {"test": "datum.value % 25 === 0", "value": 7}, "value": 4}, "domainColor": "black", "tickColor": "black", "labelColor": "black", "title": "Eng1 Percent Power (%)", "titleColor": "black", "titleX": -63.5, "titleY": 1227}}}},
  {"data": {"name": "alt"}, "transform": [{"filter": "datum.s === 'Press'"}], "mark": {"type": "line", "color": "#ff9900"},
   "encoding": {"y": {"field": "v", "type": "quantitative", "scale": {"domain": [5000, 10000], "range": [1394, 1254.6], "nice": false, "zero": false},
     "axis": {"orient": "right", "offset": 5, "labels": false, "ticks": false, "domain": false, "title": "Altitude Press (ft)", "titleColor": "#ff9900", "titleX": 132, "titleY": 1328.5}}}},
  {"data": {"name": "alt"}, "transform": [{"filter": "datum.s === 'GPS'"}], "mark": {"type": "line", "color": "#a066b0"},
   "encoding": {"y": {"field": "v", "type": "quantitative", "scale": {"domain": [5000, 10000], "range": [1394, 1254.6], "nice": false, "zero": false},
     "axis": {"orient": "right", "offset": 5, "format": "d", "values": [5000,5500,6000,6500,7000,7500,8000,8500,9000,9500,10000], "labelExpr": "datum.value % 2500 === 0 ? datum.label : ''", "tickSize": {"condition": {"test": "datum.value % 2500 === 0", "value": 7}, "value": 4}, "domainColor": "#a066b0", "tickColor": "#a066b0", "labelColor": "#a066b0", "title": "Altitude GPS (ft)", "titleColor": "#a066b0", "titleX": 106, "titleY": 1329}}}},
  {"data": {"name": "labels"}, "mark": {"type": "text", "fontSize": 20, "fontWeight": "bold", "baseline": "middle", "align": "center"},
   "encoding": {"y": {"field": "row", "type": "quantitative", "scale": {"domain": [0, 20], "range": [0, 1394], "nice": false, "zero": false}, "axis": null},
     "text": {"field": "label"},
     "color": {"field": "kind", "type": "nominal", "scale": {"domain": ["main", "traffic", "flaps"], "range": ["#000000", "#00d700", "#a066b0"]}, "legend": null}}}
],
"resolve": {"scale": {"y": "independent"}, "axis": {"y": "independent"}}
}
